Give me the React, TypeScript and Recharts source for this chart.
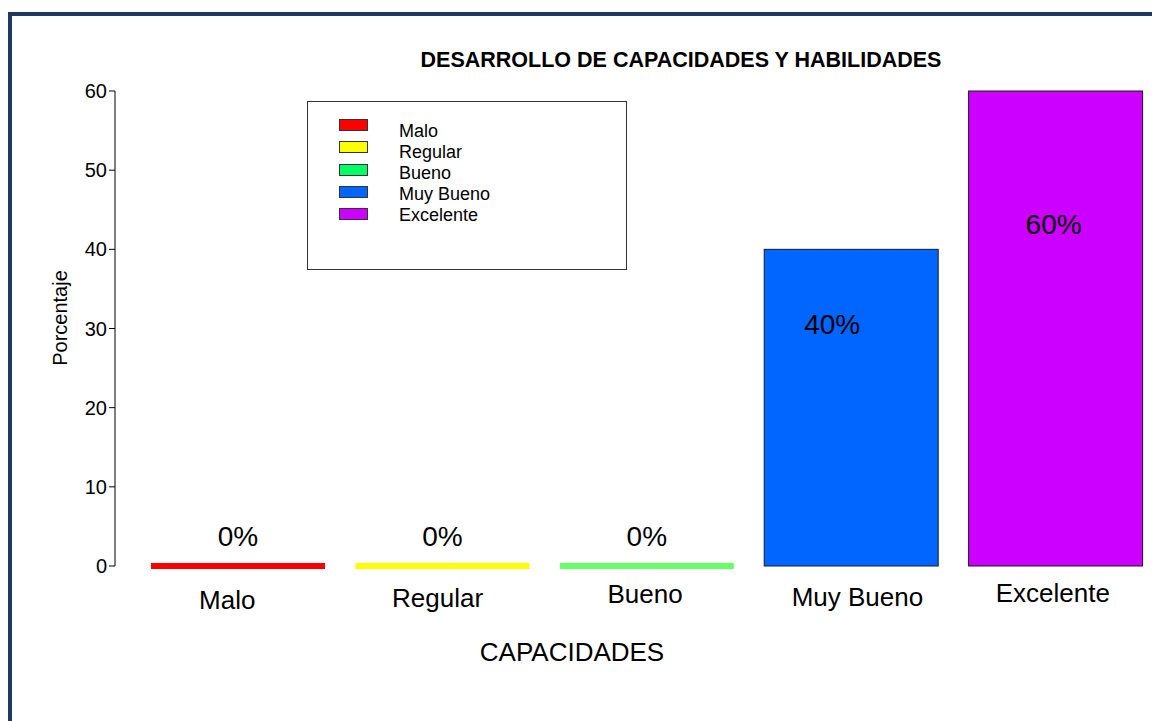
import React from 'react';
import { BarChart, Bar, XAxis, YAxis, Cell, LabelList, Legend, Label } from 'recharts';

// values
const categories = ['Malo', 'Regular', 'Bueno', 'Muy Bueno', 'Excelente'];
const percentages = [0, 0, 0, 40, 60];
const barColors = ['#FF0000', '#FFFF00', '#66FF66', '#0066FF', '#CC00FF'];
const legendColors = ['#FF0000', '#FFFF00', '#00FF66', '#0066FF', '#CC00FF'];
const yTicks = [0, 10, 20, 30, 40, 50, 60];

const data = categories.map((name, i) => ({ name, value: percentages[i] }));

const FONT = '"Liberation Sans", Arial, sans-serif';

// small nudges so labels sit where the original put them
const tickDx = [-11, -5, -2, 6, -3];
const tickDy = [34, 32, 28, 31, 27];
const valueLabelDx = [0, 0, 0, -19, -2];

const BarShape = (props: any) => {
  const { x, y, width, height, fill } = props;
  // zero values are drawn as a thick coloured line on the baseline
  if (!height || Math.abs(height) < 1) {
    return <rect x={x} y={y - 3} width={width} height={6} fill={fill} />;
  }
  return (
    <rect x={x} y={y} width={width} height={height} fill={fill} stroke="#1a1a1a" strokeWidth={1} />
  );
};

const CategoryTick = (props: any) => {
  const { x, y, payload, index } = props;
  return (
    <text
      x={x + (tickDx[index] || 0)}
      y={y + (tickDy[index] || 30)}
      textAnchor="middle"
      dominantBaseline="central"
      fontFamily={FONT}
      fontSize={26}
      fill="#000"
    >
      {payload.value}
    </text>
  );
};

const ValueLabel = (props: any) => {
  const { x, y, width, value, index } = props;
  const cx = x + width / 2 + (valueLabelDx[index] || 0);
  let cy;
  if (!value) cy = y - 30;
  else cy = y + (value >= 60 ? 133 : 75);
  return (
    <text
      x={cx}
      y={cy}
      textAnchor="middle"
      dominantBaseline="central"
      fontFamily={FONT}
      fontSize={28}
      fill="#000"
    >
      {`${value}%`}
    </text>
  );
};

const LegendBox = () => (
  <div
    style={{
      position: 'relative',
      width: 320,
      height: 169,
      border: '1px solid #333',
      boxSizing: 'border-box',
      background: '#fff',
      fontFamily: FONT,
    }}
  >
    {categories.map((name, i) => (
      <React.Fragment key={name}>
        <div
          style={{
            position: 'absolute',
            left: 31,
            top: 17 + i * 22.3,
            width: 27,
            height: 10,
            background: legendColors[i],
            border: '1px solid #333',
          }}
        />
        <div
          style={{
            position: 'absolute',
            left: 91,
            top: 19 + i * 21,
            fontSize: 18,
            lineHeight: '20px',
            color: '#000',
            whiteSpace: 'nowrap',
          }}
        >
          {name}
        </div>
      </React.Fragment>
    ))}
  </div>
);

export default function App() {
  return (
    <div
      style={{
        position: 'absolute',
        left: 0,
        top: 0,
        width: 1152,
        height: 721,
        overflow: 'hidden',
        background: '#fff',
        fontFamily: FONT,
      }}
    >
      <div
        style={{
          position: 'absolute',
          left: 8,
          top: 12,
          width: 1300,
          height: 900,
          borderTop: '4px solid #1F3A60',
          borderLeft: '4px solid #1F3A60',
        }}
      />
      <div
        style={{
          position: 'absolute',
          left: 0,
          top: 49,
          width: 1362,
          textAlign: 'center',
          fontSize: 21.5,
          fontWeight: 'bold',
          color: '#000',
          lineHeight: '22px',
        }}
      >
        DESARROLLO DE CAPACIDADES Y HABILIDADES
      </div>
      <div style={{ position: 'absolute', left: 0, top: 0 }}>
        <BarChart
          width={1170}
          height={721}
          data={data}
          margin={{ top: 91, right: 0, bottom: 95, left: 0 }}
          barSize={174}
        >
          <XAxis
            dataKey="name"
            height={60}
            axisLine={false}
            tickLine={false}
            tickSize={0}
            tickMargin={0}
            padding={{ left: 21, right: 12 }}
            tick={<CategoryTick />}
            interval={0}
          >
            <Label
              content={() => (
                <text
                  x={572}
                  y={652}
                  textAnchor="middle"
                  dominantBaseline="central"
                  fontFamily={FONT}
                  fontSize={26}
                  fill="#000"
                >
                  CAPACIDADES
                </text>
              )}
            />
          </XAxis>
          <YAxis
            width={115}
            domain={[0, 60]}
            ticks={yTicks}
            interval={0}
            axisLine={{ stroke: '#000' }}
            tickLine={{ stroke: '#000' }}
            tickSize={6}
            tick={{ fill: '#000', fontSize: 20, fontFamily: FONT }}
          >
            <Label
              content={() => (
                <text
                  x={60}
                  y={318}
                  textAnchor="middle"
                  dominantBaseline="central"
                  transform="rotate(-90 60 318)"
                  fontFamily={FONT}
                  fontSize={20}
                  fill="#000"
                >
                  Porcentaje
                </text>
              )}
            />
          </YAxis>
          <Legend
            layout="horizontal"
            verticalAlign="middle"
            align="center"
            content={<LegendBox />}
            wrapperStyle={{ left: 307, top: 101, width: 320, height: 169 }}
          />
          <Bar dataKey="value" shape={<BarShape />} isAnimationActive={false}>
            {data.map((d, i) => (
              <Cell key={d.name} fill={barColors[i]} />
            ))}
            <LabelList dataKey="value" content={<ValueLabel />} />
          </Bar>
        </BarChart>
      </div>
    </div>
  );
}
